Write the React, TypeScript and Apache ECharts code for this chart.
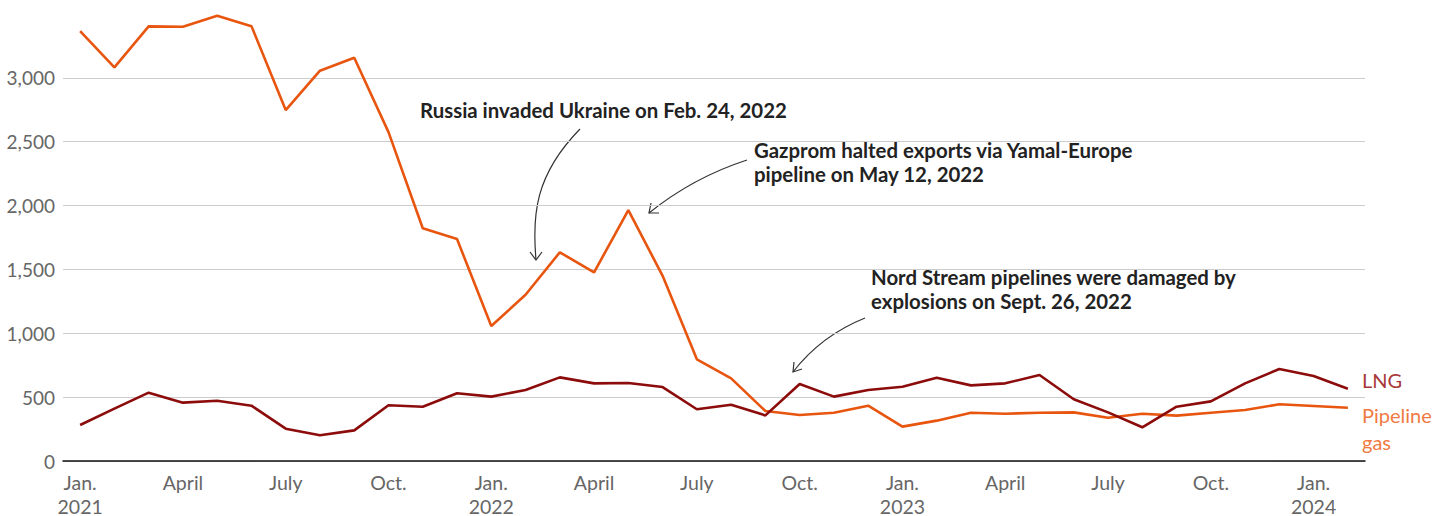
import React, { useEffect, useRef } from "react";
import * as echarts from "echarts";

const months = [
  "Jan.\n2021", "Feb.", "March", "April", "May", "June", "July", "Aug.", "Sept.", "Oct.", "Nov.", "Dec.",
  "Jan.\n2022", "Feb.", "March", "April", "May", "June", "July", "Aug.", "Sept.", "Oct.", "Nov.", "Dec.",
  "Jan.\n2023", "Feb.", "March", "April", "May", "June", "July", "Aug.", "Sept.", "Oct.", "Nov.", "Dec.",
  "Jan.\n2024", "Feb.",
];

const pipelineGas = [
  3366, 3082, 3403, 3400, 3486, 3405, 2748, 3056, 3158, 2575, 1822, 1738,
  1057, 1302, 1634, 1477, 1965, 1450, 796, 647, 391, 360, 378, 433,
  269, 316, 378, 370, 378, 381, 339, 370, 355, 378, 399, 444,
  431, 417,
];

const lng = [
  282, 410, 535, 457, 472, 433, 253, 201, 240, 436, 425, 530,
  504, 556, 655, 608, 611, 579, 405, 441, 357, 603, 504, 556,
  582, 652, 592, 608, 673, 483, 381, 264, 425, 467, 608, 720,
  665, 566,
];

const yTicks = { min: 0, max: 3500, interval: 500 };

const FONT = "Lato, 'Noto Sans', sans-serif";
const ORANGE = "#e8550f";
const DARKRED = "#8c0b0b";
const INK = "#222222";
const AXIS_GRAY = "#666666";

export default function App() {
  const ref = useRef<HTMLDivElement>(null);
  useEffect(() => {
    if (!ref.current) return;
    const chart = echarts.init(ref.current, undefined, { renderer: "svg" });
    const annText = (x: number, y: number, text: string) => ({
      type: "text",
      x,
      y,
      style: {
        text,
        font: `bold 20.4px ${FONT}`,
        fill: INK,
        lineHeight: 24,
        textVerticalAlign: "middle",
      },
    });
    const arrowStyle = { stroke: "#333", lineWidth: 1.2, fill: "none" };
    chart.setOption({
      animation: false,
      textStyle: { fontFamily: FONT },
      grid: { left: 63, right: 67, top: 14, bottom: 55, containLabel: false, outerBoundsMode: "none" },
      xAxis: {
        type: "category",
        data: months,
        boundaryGap: true,
        axisLine: { show: true, lineStyle: { color: "#111", width: 1.5 } },
        axisTick: { show: false },
        axisLabel: {
          interval: 2,
          color: AXIS_GRAY,
          fontSize: 19.5,
          lineHeight: 24,
          margin: 9,
          fontFamily: FONT,
        },
        splitLine: { show: false },
      },
      yAxis: {
        type: "value",
        min: yTicks.min,
        max: yTicks.max,
        interval: yTicks.interval,
        axisLine: { show: false },
        axisTick: { show: false },
        axisLabel: {
          color: AXIS_GRAY,
          fontSize: 19,
          margin: 8,
          fontFamily: FONT,
          showMaxLabel: false,
          formatter: (v: number) => v.toLocaleString("en-US"),
        },
        splitLine: { show: true, showMaxLine: false, lineStyle: { color: "#cccccc", width: 1 } },
      },
      series: [
        {
          name: "Pipeline gas",
          type: "line",
          data: pipelineGas,
          symbol: "none",
          lineStyle: { color: ORANGE, width: 2.6 },
          z: 2,
        },
        {
          name: "LNG",
          type: "line",
          data: lng,
          symbol: "none",
          lineStyle: { color: DARKRED, width: 2.6 },
          z: 3,
        },
      ],
      graphic: [
        annText(420, 110, "Russia invaded Ukraine on Feb. 24, 2022"),
        annText(754, 162, "Gazprom halted exports via Yamal-Europe\npipeline on May 12, 2022"),
        annText(871, 289, "Nord Stream pipelines were damaged by\nexplosions on Sept. 26, 2022"),
        {
          type: "bezierCurve",
          shape: { x1: 580, y1: 129, cpx1: 535, cpy1: 175, cpx2: 532, cpy2: 215, x2: 536, y2: 260 },
          style: arrowStyle,
        },
        {
          type: "polyline",
          shape: { points: [[530, 252], [536, 260], [542, 252]] },
          style: arrowStyle,
        },
        {
          type: "bezierCurve",
          shape: { x1: 747, y1: 160, cpx1: 710, cpy1: 172, cpx2: 675, cpy2: 192, x2: 649, y2: 213 },
          style: arrowStyle,
        },
        {
          type: "polyline",
          shape: { points: [[651, 203], [649, 213], [659, 213]] },
          style: arrowStyle,
        },
        {
          type: "bezierCurve",
          shape: { x1: 865, y1: 318, cpx1: 835, cpy1: 330, cpx2: 810, cpy2: 350, x2: 793, y2: 372 },
          style: arrowStyle,
        },
        {
          type: "polyline",
          shape: { points: [[794, 362], [793, 372], [802, 369]] },
          style: arrowStyle,
        },
        {
          type: "text",
          x: 1362,
          y: 380,
          style: { text: "LNG", font: `20px ${FONT}`, fill: "#a83838", textVerticalAlign: "middle" },
        },
        {
          type: "text",
          x: 1362,
          y: 428,
          style: {
            text: "Pipeline\ngas",
            font: `20px ${FONT}`,
            fill: "#f07a42",
            lineHeight: 27,
            textVerticalAlign: "middle",
          },
        },
      ],
    });
    return () => chart.dispose();
  }, []);
  return (
    <div
      ref={ref}
      style={{ position: "absolute", left: 0, top: 0, width: 1432, height: 516, background: "#fff" }}
    />
  );
}
